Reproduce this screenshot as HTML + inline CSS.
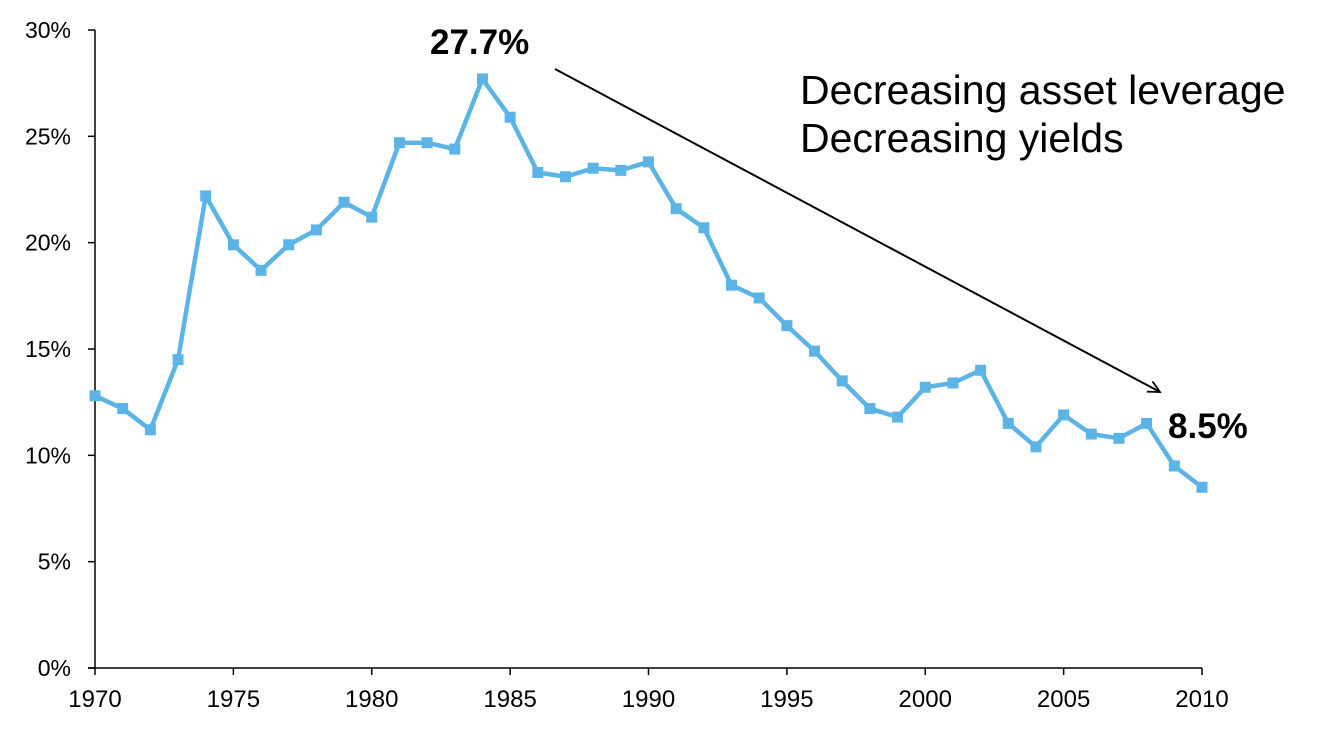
<!DOCTYPE html>
<html><head><meta charset="utf-8"><style>
body{margin:0;background:#fff;}
svg{display:block;font-family:"Liberation Sans",Arial,sans-serif;}
</style></head><body>
<svg id="chart" width="1328" height="733">
<defs><marker id="ah" markerWidth="14" markerHeight="14" refX="12" refY="6" orient="auto" markerUnits="userSpaceOnUse"><path d="M0,0 L12,6 L0,12" fill="none" stroke="#000" stroke-width="1.8"/></marker></defs>
<g id="axes"></g>
<g id="series"></g>
<line x1="555" y1="69" x2="1160" y2="392" stroke="#000" stroke-width="2" marker-end="url(#ah)"/>
<text x="430" y="54" font-size="35" font-weight="bold">27.7%</text>
<text x="1168" y="438" font-size="35" font-weight="bold">8.5%</text>
<text x="800" y="104" font-size="41">Decreasing asset leverage</text>
<text x="800" y="152" font-size="41">Decreasing yields</text>
</svg>
<script>
const years=[1970,1971,1972,1973,1974,1975,1976,1977,1978,1979,1980,1981,1982,1983,1984,1985,1986,1987,1988,1989,1990,1991,1992,1993,1994,1995,1996,1997,1998,1999,2000,2001,2002,2003,2004,2005,2006,2007,2008,2009,2010];
const values=[12.8,12.2,11.2,14.5,22.2,19.9,18.7,19.9,20.6,21.9,21.2,24.7,24.7,24.4,27.7,25.9,23.3,23.1,23.5,23.4,23.8,21.6,20.7,18.0,17.4,16.1,14.9,13.5,12.2,11.8,13.2,13.4,14.0,11.5,10.4,11.9,11.0,10.8,11.5,9.5,8.5];
const yTicks=[0,5,10,15,20,25,30];
const xTicks=[1970,1975,1980,1985,1990,1995,2000,2005,2010];
const NS="http://www.w3.org/2000/svg";
const x=v=>95+(v-1970)*(1202-95)/40;
const y=v=>668-v*(668-30)/30;
function mk(t,a,p){const e=document.createElementNS(NS,t);for(const k in a)e.setAttribute(k,a[k]);p.appendChild(e);return e;}
const ax=document.getElementById('axes');
let e=mk('line',{x1:95,y1:30,x2:95,y2:668,stroke:'#000','stroke-width':1.5},ax);


e=mk('line',{x1:88,y1:668,x2:1202,y2:668,stroke:'#000','stroke-width':1.5},ax);


yTicks.forEach(t=>{
 mk('line',{x1:88,y1:y(t),x2:95,y2:y(t),stroke:'#000','stroke-width':1.5},ax);
 const l=mk('text',{x:71,y:y(t)+8,'font-size':23,'text-anchor':'end'},ax);l.textContent=t+'%';
 
 
});
xTicks.forEach(t=>{
 mk('line',{x1:x(t),y1:668,x2:x(t),y2:675,stroke:'#000','stroke-width':1.5},ax);
 const l=mk('text',{x:x(t),y:707,'font-size':24,'text-anchor':'middle'},ax);l.textContent=t;
 
 
});
const s=document.getElementById('series');
const pl=mk('polyline',{points:years.map((yr,i)=>x(yr)+','+y(values[i])).join(' '),fill:'none',stroke:'#5BB4E5','stroke-width':4.5,'stroke-linejoin':'round'},s);


years.forEach((yr,i)=>{
 const m=mk('rect',{x:x(yr)-5.5,y:y(values[i])-5.5,width:11,height:11,fill:'#5BB4E5'},s);
 
 
});
</script>
</body></html>
